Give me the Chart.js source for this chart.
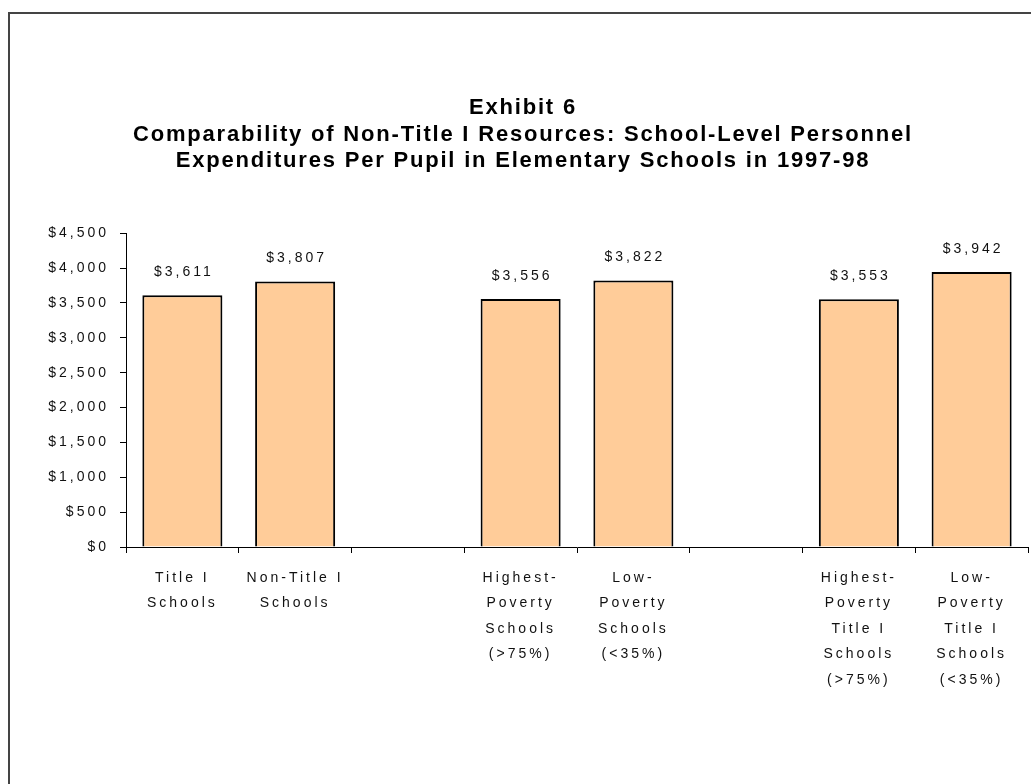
<!DOCTYPE html>
<html>
<head>
<meta charset="utf-8">
<title>Exhibit 6</title>
<script src="https://cdn.jsdelivr.net/npm/chart.js@4.4.1/dist/chart.umd.min.js"></script>
<style>
  html, body { margin: 0; padding: 0; background: #fff; overflow: hidden; }
  #frame {
    position: absolute; left: 8px; top: 12px;
    width: 1100px; height: 900px;
    border: 2px solid #444;
  }
  #wrap { position: absolute; left: 0; top: 0; width: 1031px; height: 784px; }
</style>
</head>
<body>
<div id="frame"></div>
<div id="wrap"><canvas id="myChart" width="1031" height="784"></canvas></div>
<script>
// school groups; empty slots leave the gaps between the three pairs
const categories = [
    ['Title I', 'Schools'],
    ['Non-Title I', 'Schools'],
    '',
    ['Highest-', 'Poverty', 'Schools', '(>75%)'],
    ['Low-', 'Poverty', 'Schools', '(<35%)'],
    '',
    ['Highest-', 'Poverty', 'Title I', 'Schools', '(>75%)'],
    ['Low-', 'Poverty', 'Title I', 'Schools', '(<35%)']
];
const expenditures = [3611, 3807, null, 3556, 3822, null, 3553, 3942];
const yTicks = [0, 500, 1000, 1500, 2000, 2500, 3000, 3500, 4000, 4500];

const money = v => '$' + v.toLocaleString('en-US');
const FONT = "'Liberation Sans', Arial, sans-serif";

// wide letter spacing for axis and value text, a little less for the title
const spacing = {
    id: 'spacing',
    beforeDraw(chart) {
        const tb = chart.titleBlock;
        if (tb && !tb._spaced) {
            const draw = tb.draw;
            tb.draw = function () {
                const c = this.ctx;
                c.save();
                c.letterSpacing = '1.8px';
                draw.apply(this, arguments);
                c.restore();
            };
            tb._spaced = true;
        }
        chart.ctx.letterSpacing = '3px';
    },
    afterDatasetsDraw(chart) {
        const c = chart.ctx;
        const meta = chart.getDatasetMeta(0);
        c.save();
        c.letterSpacing = '3px';
        c.font = '14px ' + FONT;
        c.fillStyle = '#111';
        c.textAlign = 'center';
        c.textBaseline = 'middle';
        meta.data.forEach((bar, i) => {
            const v = expenditures[i];
            if (v == null) return;
            c.fillText(money(v), bar.x + 1.5, bar.y - 23);
        });
        c.restore();
    }
};

new Chart(document.getElementById('myChart').getContext('2d'), {
    type: 'bar',
    data: {
        labels: categories,
        datasets: [{
            data: expenditures,
            backgroundColor: '#FFCC99',
            borderColor: '#000',
            borderWidth: 2,
            barPercentage: 0.71,
            categoryPercentage: 1
        }]
    },
    options: {
        responsive: false,
        animation: false,
        layout: { padding: { left: 18, right: 3, top: 0, bottom: 0 } },
        plugins: {
            legend: { display: false },
            tooltip: { enabled: false },
            title: {
                display: true,
                text: ['Exhibit 6',
                       'Comparability of Non-Title I Resources: School-Level Personnel',
                       'Expenditures Per Pupil in Elementary Schools in 1997-98'],
                color: '#000',
                font: { family: FONT, size: 22, weight: 'bold', lineHeight: 1.2 },
                padding: { top: 95, bottom: 59 }
            }
        },
        scales: {
            x: {
                grid: { drawOnChartArea: false, tickLength: 6, color: '#000', offset: true },
                border: { color: '#000', width: 1 },
                ticks: {
                    color: '#111',
                    font: { family: FONT, size: 14, lineHeight: 1.82 },
                    padding: 12,
                    maxRotation: 0,
                    autoSkip: false
                },
                afterFit(scale) { scale.height = 237; }
            },
            y: {
                min: 0,
                max: 4500,
                afterBuildTicks(scale) { scale.ticks = yTicks.map(v => ({ value: v })); },
                grid: { drawOnChartArea: false, tickLength: 6, color: '#000' },
                border: { color: '#000', width: 1 },
                ticks: {
                    color: '#111',
                    font: { family: FONT, size: 14 },
                    padding: 11,
                    callback: v => money(v)
                },
                afterFit(scale) { scale.width = 108; }
            }
        }
    },
    plugins: [spacing]
});
</script>
</body>
</html>
